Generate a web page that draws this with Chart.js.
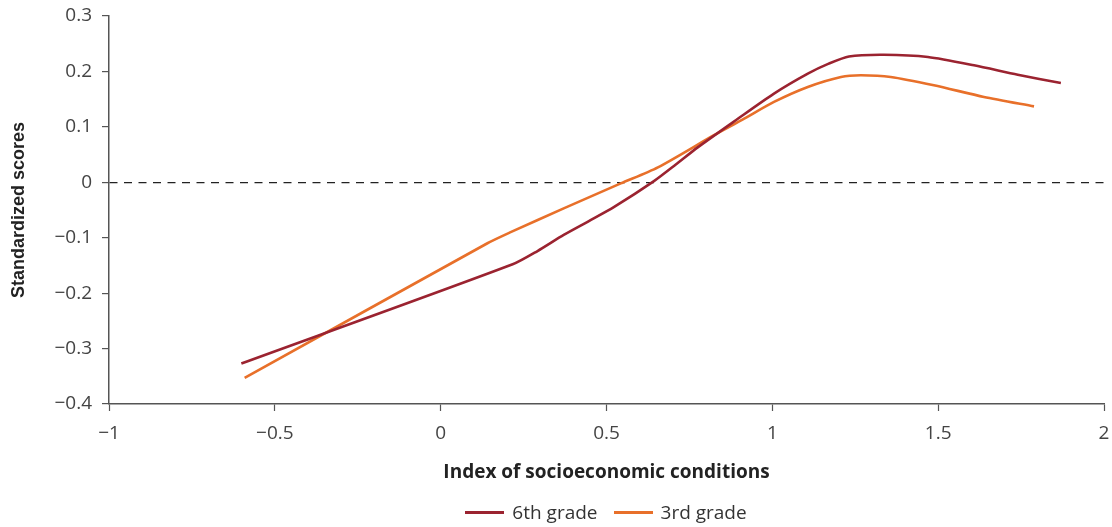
<!DOCTYPE html>
<html>
<head>
<meta charset="utf-8">
<script src="https://cdn.jsdelivr.net/npm/chart.js@4"></script>
<style>
html,body{margin:0;padding:0;background:#fff;overflow:hidden;}
#wrap{width:1112px;height:527px;position:relative;}
#legend{position:absolute;left:100px;width:1012px;top:498px;height:28px;display:flex;justify-content:center;align-items:center;
  font-family:'Open Sans',sans-serif;font-size:19px;color:#333;}
.item{display:flex;align-items:center;margin:0 8px;}
.swatch{width:39px;height:3px;margin-right:8px;}
</style>
</head>
<body>
<div id="wrap"><canvas id="c" width="1112" height="527"></canvas><div id="legend"></div></div>
<script>
const seriesNames = ["6th grade", "3rd grade"];
const sixthX = [-0.601, 0.217, 0.292, 0.371, 0.447, 0.522, 0.643, 0.709, 0.775, 0.89, 1.005, 1.107, 1.17, 1.231, 1.336, 1.469, 1.608, 1.74, 1.87];
const sixthY = [-0.327, -0.148, -0.124, -0.095, -0.070, -0.045, 0.002, 0.032, 0.063, 0.112, 0.160, 0.196, 0.214, 0.227, 0.230, 0.226, 0.211, 0.194, 0.179];
const thirdX = [-0.591, 0.141, 0.211, 0.371, 0.543, 0.655, 0.824, 0.91, 1.005, 1.107, 1.207, 1.267, 1.357, 1.487, 1.638, 1.789];
const thirdY = [-0.353, -0.110, -0.090, -0.047, -0.002, 0.027, 0.085, 0.113, 0.145, 0.172, 0.190, 0.193, 0.190, 0.175, 0.154, 0.137];
const xTicks = [-1, -0.5, 0, 0.5, 1, 1.5, 2];
const yTicks = [-0.4, -0.3, -0.2, -0.1, 0, 0.1, 0.2, 0.3];
const colors = ["#9b2330", "#e8702a"];

const toPts = (xs, ys) => xs.map((x, i) => ({x: x, y: ys[i]}));
const fmt = v => {
  const r = Math.round(v * 10) / 10;
  return (r < 0 ? "\u2212" : "") + String(Math.abs(r));
};
const FONT = "'Open Sans', sans-serif";

const chart = new Chart(document.getElementById("c"), {
  type: "scatter",
  data: {
    datasets: [
      {label: seriesNames[0], data: toPts(sixthX, sixthY), borderColor: colors[0], backgroundColor: colors[0],
       showLine: true, borderWidth: 2.6, pointRadius: 0, tension: 0.25, borderJoinStyle: "round"},
      {label: seriesNames[1], data: toPts(thirdX, thirdY), borderColor: colors[1], backgroundColor: colors[1],
       showLine: true, borderWidth: 2.6, pointRadius: 0, tension: 0.25, borderJoinStyle: "round"}
    ]
  },
  options: {
    responsive: false,
    animation: false,
    layout: {padding: {left: 0, right: 8, top: 16, bottom: 43}},
    plugins: {
      tooltip: {enabled: false},
      legend: {display: false}
    },
    scales: {
      x: {
        type: "linear", min: -1, max: 2,
        afterBuildTicks: s => { s.ticks = xTicks.map(v => ({value: v})); },
        afterFit: s => { s.height = 80; s.paddingLeft = 0; s.paddingRight = 0; },
        ticks: {callback: v => fmt(v), color: "#444", font: {family: FONT, size: 19}, padding: 11, maxRotation: 0},
        grid: {drawOnChartArea: false, tickLength: 7, tickColor: "#555", tickWidth: 1.2},
        border: {color: "#555", width: 1.5},
        title: {display: true, text: "Index of socioeconomic conditions", color: "#222",
                font: {family: FONT, size: 19, weight: "bold"}, padding: {top: 0, bottom: 0}}
      },
      y: {
        type: "linear", min: -0.4, max: 0.3,
        afterBuildTicks: s => { s.ticks = yTicks.map(v => ({value: v})); },
        afterFit: s => { s.width = 109; s.paddingTop = 0; s.paddingBottom = 0; },
        ticks: {callback: v => fmt(v), color: "#444", font: {family: FONT, size: 19}, padding: 10},
        grid: {
          drawOnChartArea: true, tickLength: 7, tickWidth: 1.2, tickColor: "#555",
          color: ctx => (ctx.tick && Math.abs(ctx.tick.value) < 1e-9) ? "#222" : "rgba(0,0,0,0)",
          lineWidth: 1.2
        },
        border: {color: "#555", width: 1.5, dash: [8, 6.5]},
        title: {display: true, text: "Standardized scores", color: "#222",
                font: {family: "'Liberation Sans', Arial, sans-serif", size: 18, weight: "bold"}, padding: {top: 8, bottom: 0}}
      }
    }
  }
});

const leg = document.getElementById("legend");
chart.data.datasets.forEach(ds => {
  const it = document.createElement("div"); it.className = "item";
  const sw = document.createElement("span"); sw.className = "swatch"; sw.style.background = ds.borderColor;
  const tx = document.createElement("span"); tx.textContent = ds.label;
  it.appendChild(sw); it.appendChild(tx); leg.appendChild(it);
});
</script>
</body>
</html>
